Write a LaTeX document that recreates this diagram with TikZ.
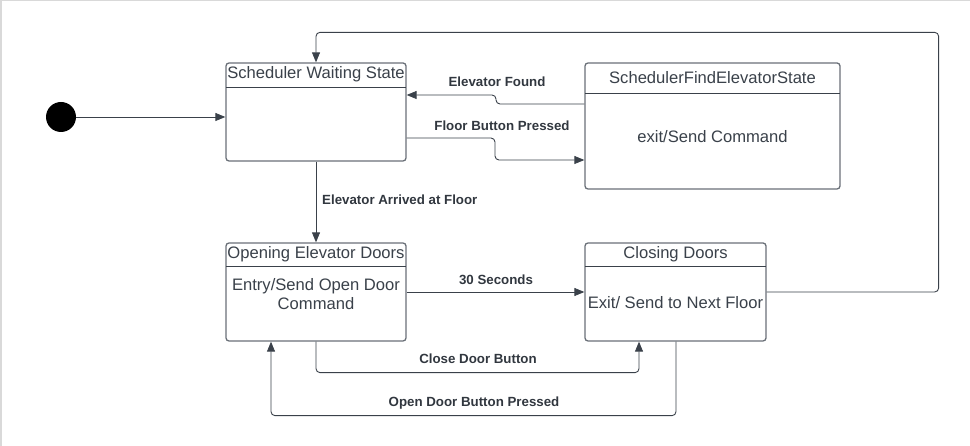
\documentclass[tikz,border=0pt]{standalone}
\usepackage{fontspec}
\setmainfont{Liberation Sans}
\usetikzlibrary{arrows.meta,calc}
\definecolor{ink}{HTML}{3A414A}
\definecolor{boxline}{HTML}{6A7078}
\definecolor{frame}{HTML}{D9D9D9}
\begin{document}
\begin{tikzpicture}[x=1pt,y=-1pt,
  statebox/.style={draw=boxline,line width=1.3pt,rounded corners=3pt,fill=white,inner sep=0pt},
  divider/.style={draw=ink,line width=1pt},
  titletext/.style={text=ink,font=\fontsize{16.6}{19}\selectfont,inner sep=0pt},
  bodytext/.style={text=ink,font=\fontsize{16.6}{19.5}\selectfont,inner sep=0pt,align=center},
  lbl/.style={text=ink!85!black,font=\bfseries\fontsize{13.3}{15}\selectfont,inner sep=0pt},
  conn/.style={draw=ink,line width=0.9pt,rounded corners=4pt,-{Triangle[length=10pt,width=8pt]}}]
\useasboundingbox (0,0) rectangle (970,446);
\draw[frame,line width=1.5pt] (0.75,446) -- (0.75,0.75) -- (970,0.75);

% initial state
\node[circle,fill=black,minimum size=30pt,inner sep=0pt] (init) at (61,117) {};

% states
\node[statebox,minimum width=180pt,minimum height=98pt] (s1) at (316,112) {};
\draw[divider] (226,88) -- (406,88);
\node[titletext] (s1t) at (316,74.5) {Scheduler Waiting State};

\node[statebox,minimum width=255pt,minimum height=126pt] (sfe) at (712.5,126) {};
\draw[divider] (585,94) -- (840,94);
\node[titletext] (sfet) at (712.5,77.5) {SchedulerFindElevatorState};
\node[bodytext] (sfeb) at (712.5,137) {exit/Send Command};

\node[statebox,minimum width=180pt,minimum height=98pt] (op) at (316,292) {};
\draw[divider] (226,267) -- (406,267);
\node[titletext] (opt) at (316,254.5) {Opening Elevator Doors};
\node[bodytext] (opb) at (316,294) {Entry/Send Open Door\\Command};

\node[statebox,minimum width=181pt,minimum height=98pt] (cl) at (675.5,292) {};
\draw[divider] (585,267) -- (766,267);
\node[titletext] (clt) at (675.5,254.5) {Closing Doors};
\node[bodytext] (clb) at (675.5,303) {Exit/ Send to Next Floor};

% connectors
\draw[conn] (init.east) -- (init.east -| s1.west);
\draw[conn] ($(sfe.west)+(0,-22)$) -- (496,104) -- (496,95) -- ($(s1.east)+(0,-17)$);
\draw[conn] ($(s1.east)+(0,26)$) -- (495,138) -- (495,160) -- ($(sfe.west)+(0,34)$);
\draw[conn] (s1.south) -- (op.north);
\draw[conn] (op.east) -- (cl.west);
\draw[conn] (op.south) -- ++(0,31) -| ($(cl.south)+(-36.5,0)$);
\draw[conn] ($(cl.south)+(0.5,0)$) -- ++(0,74) -| ($(op.south)+(-45,0)$);
\draw[conn] (cl.east) -- ++(172,0) |- ($(s1.north)+(0,-30)$) -- (s1.north);

% labels
\node[lbl] (lef) at (497,82) {Elevator Found};
\node[lbl] (lfb) at (502,126) {Floor Button Pressed};
\node[lbl,anchor=west] (lea) at (322,200) {Elevator Arrived at Floor};
\node[lbl] (l30) at (496,280) {30 Seconds};
\node[lbl] (lcd) at (478,359) {Close Door Button};
\node[lbl] (lod) at (474,403) {Open Door Button Pressed};
\end{tikzpicture}
\end{document}
